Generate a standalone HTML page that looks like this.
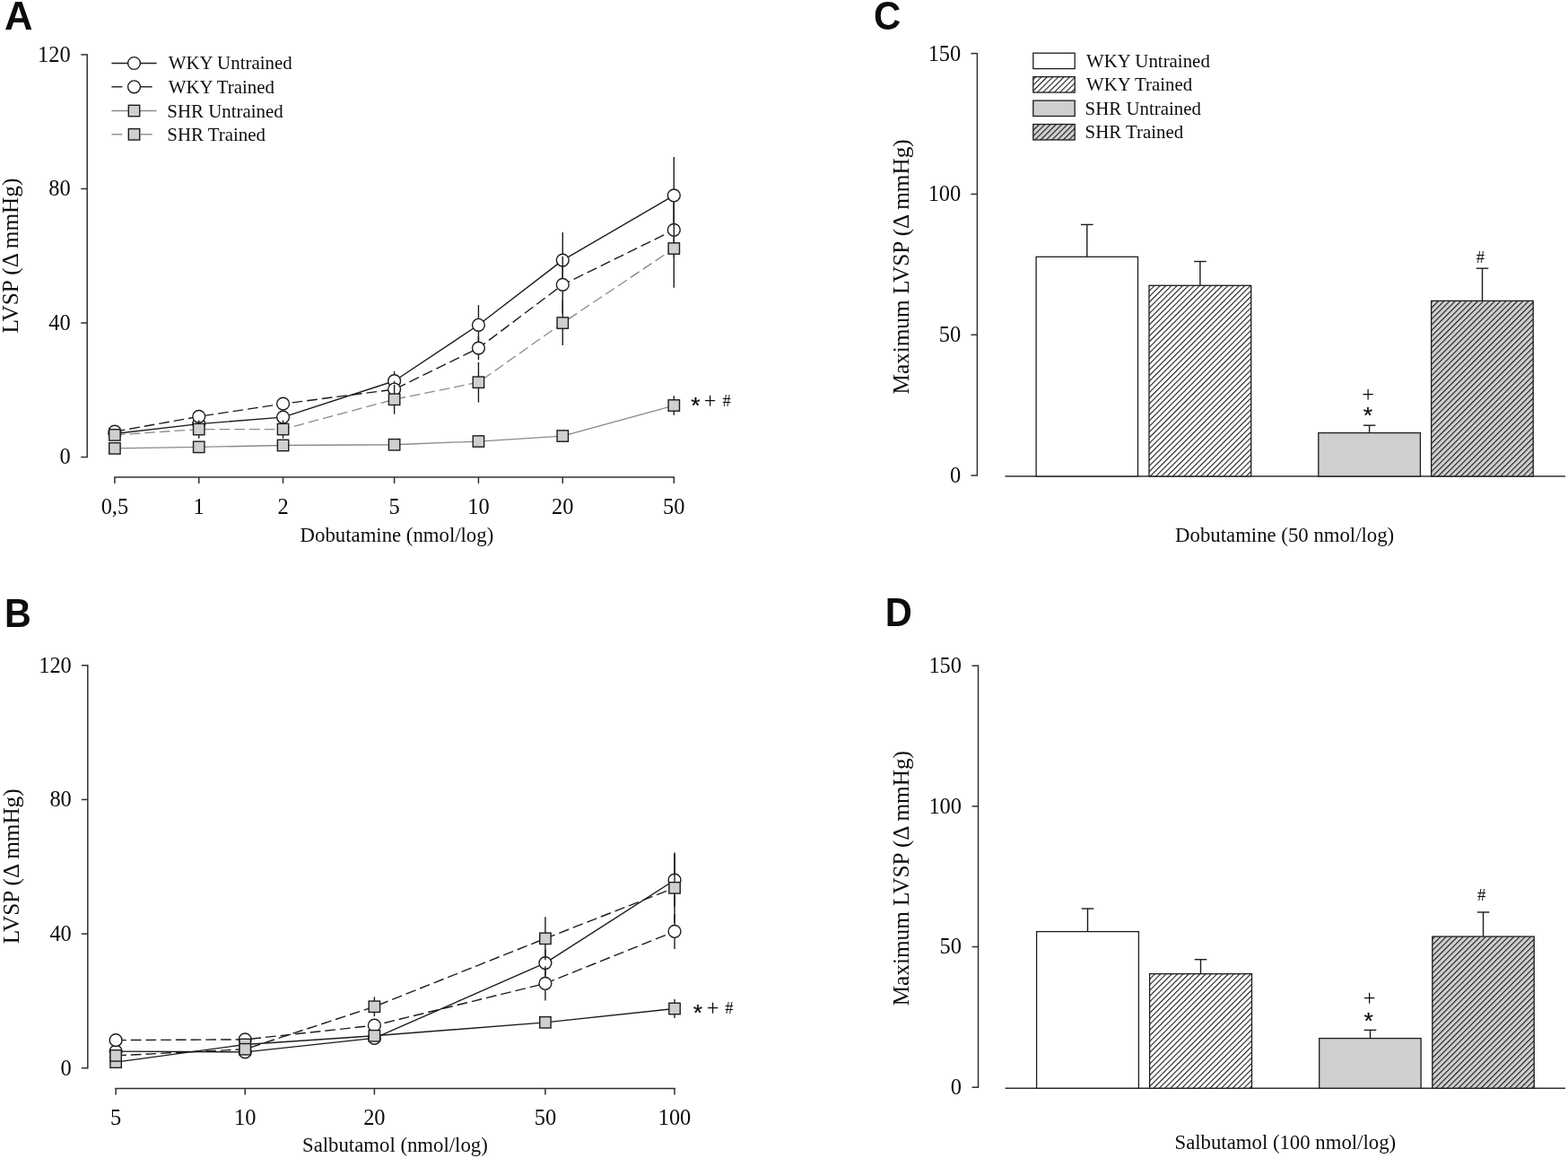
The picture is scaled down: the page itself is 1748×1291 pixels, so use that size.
<!DOCTYPE html>
<html><head><meta charset="utf-8"><title>Figure</title>
<style>html,body{margin:0;padding:0;background:#fff;}body{width:1748px;height:1291px;overflow:hidden;}svg{display:block;}</style>
</head><body>
<svg width="1748" height="1291" viewBox="0 0 1748 1291"><line x1="97.20" y1="60.22" x2="97.20" y2="510.30" stroke="#303030" stroke-width="1.5" stroke-linecap="butt"/>
<line x1="90.20" y1="509.60" x2="97.20" y2="509.60" stroke="#303030" stroke-width="1.5" stroke-linecap="butt"/>
<line x1="90.20" y1="360.04" x2="97.20" y2="360.04" stroke="#303030" stroke-width="1.5" stroke-linecap="butt"/>
<line x1="90.20" y1="210.48" x2="97.20" y2="210.48" stroke="#303030" stroke-width="1.5" stroke-linecap="butt"/>
<line x1="90.20" y1="60.92" x2="97.20" y2="60.92" stroke="#303030" stroke-width="1.5" stroke-linecap="butt"/>
<line x1="127.15" y1="532.00" x2="752.05" y2="532.00" stroke="#303030" stroke-width="1.5" stroke-linecap="butt"/>
<line x1="127.90" y1="532.00" x2="127.90" y2="539.00" stroke="#303030" stroke-width="1.5" stroke-linecap="butt"/>
<line x1="221.73" y1="532.00" x2="221.73" y2="539.00" stroke="#303030" stroke-width="1.5" stroke-linecap="butt"/>
<line x1="315.56" y1="532.00" x2="315.56" y2="539.00" stroke="#303030" stroke-width="1.5" stroke-linecap="butt"/>
<line x1="439.60" y1="532.00" x2="439.60" y2="539.00" stroke="#303030" stroke-width="1.5" stroke-linecap="butt"/>
<line x1="533.43" y1="532.00" x2="533.43" y2="539.00" stroke="#303030" stroke-width="1.5" stroke-linecap="butt"/>
<line x1="627.26" y1="532.00" x2="627.26" y2="539.00" stroke="#303030" stroke-width="1.5" stroke-linecap="butt"/>
<line x1="751.30" y1="532.00" x2="751.30" y2="539.00" stroke="#303030" stroke-width="1.5" stroke-linecap="butt"/>
<line x1="127.90" y1="481.56" x2="127.90" y2="485.30" stroke="#1c1c1c" stroke-width="1.4" stroke-linecap="butt"/>
<line x1="221.73" y1="466.98" x2="221.73" y2="478.19" stroke="#1c1c1c" stroke-width="1.4" stroke-linecap="butt"/>
<line x1="315.56" y1="459.50" x2="315.56" y2="470.71" stroke="#1c1c1c" stroke-width="1.4" stroke-linecap="butt"/>
<line x1="439.60" y1="413.88" x2="439.60" y2="435.57" stroke="#1c1c1c" stroke-width="1.4" stroke-linecap="butt"/>
<line x1="533.43" y1="340.22" x2="533.43" y2="384.34" stroke="#1c1c1c" stroke-width="1.4" stroke-linecap="butt"/>
<line x1="627.26" y1="259.09" x2="627.26" y2="321.15" stroke="#1c1c1c" stroke-width="1.4" stroke-linecap="butt"/>
<line x1="751.30" y1="174.96" x2="751.30" y2="260.96" stroke="#1c1c1c" stroke-width="1.4" stroke-linecap="butt"/>
<polyline points="127.90,483.43 221.73,472.58 315.56,465.11 439.60,424.72 533.43,362.28 627.26,290.12 751.30,217.96" fill="none" stroke="#1c1c1c" stroke-width="1.4" stroke-linejoin="round"/>
<circle cx="127.90" cy="483.43" r="6.9" fill="#fff" stroke="#1c1c1c" stroke-width="1.4"/>
<circle cx="221.73" cy="472.58" r="6.9" fill="#fff" stroke="#1c1c1c" stroke-width="1.4"/>
<circle cx="315.56" cy="465.11" r="6.9" fill="#fff" stroke="#1c1c1c" stroke-width="1.4"/>
<circle cx="439.60" cy="424.72" r="6.9" fill="#fff" stroke="#1c1c1c" stroke-width="1.4"/>
<circle cx="533.43" cy="362.28" r="6.9" fill="#fff" stroke="#1c1c1c" stroke-width="1.4"/>
<circle cx="627.26" cy="290.12" r="6.9" fill="#fff" stroke="#1c1c1c" stroke-width="1.4"/>
<circle cx="751.30" cy="217.96" r="6.9" fill="#fff" stroke="#1c1c1c" stroke-width="1.4"/>
<line x1="127.90" y1="479.31" x2="127.90" y2="483.05" stroke="#1c1c1c" stroke-width="1.4" stroke-linecap="butt"/>
<line x1="221.73" y1="458.75" x2="221.73" y2="469.97" stroke="#1c1c1c" stroke-width="1.4" stroke-linecap="butt"/>
<line x1="315.56" y1="444.54" x2="315.56" y2="455.76" stroke="#1c1c1c" stroke-width="1.4" stroke-linecap="butt"/>
<line x1="439.60" y1="424.72" x2="439.60" y2="443.42" stroke="#1c1c1c" stroke-width="1.4" stroke-linecap="butt"/>
<line x1="533.43" y1="375.00" x2="533.43" y2="401.17" stroke="#1c1c1c" stroke-width="1.4" stroke-linecap="butt"/>
<line x1="627.26" y1="285.63" x2="627.26" y2="349.20" stroke="#1c1c1c" stroke-width="1.4" stroke-linecap="butt"/>
<line x1="751.30" y1="226.56" x2="751.30" y2="286.38" stroke="#1c1c1c" stroke-width="1.4" stroke-linecap="butt"/>
<polyline points="127.90,481.18 221.73,464.36 315.56,450.15 439.60,434.07 533.43,388.08 627.26,317.42 751.30,256.47" fill="none" stroke="#1c1c1c" stroke-width="1.4" stroke-linejoin="round" stroke-dasharray="11.7 5"/>
<circle cx="127.90" cy="481.18" r="6.9" fill="#fff" stroke="#1c1c1c" stroke-width="1.4"/>
<circle cx="221.73" cy="464.36" r="6.9" fill="#fff" stroke="#1c1c1c" stroke-width="1.4"/>
<circle cx="315.56" cy="450.15" r="6.9" fill="#fff" stroke="#1c1c1c" stroke-width="1.4"/>
<circle cx="439.60" cy="434.07" r="6.9" fill="#fff" stroke="#1c1c1c" stroke-width="1.4"/>
<circle cx="533.43" cy="388.08" r="6.9" fill="#fff" stroke="#1c1c1c" stroke-width="1.4"/>
<circle cx="627.26" cy="317.42" r="6.9" fill="#fff" stroke="#1c1c1c" stroke-width="1.4"/>
<circle cx="751.30" cy="256.47" r="6.9" fill="#fff" stroke="#1c1c1c" stroke-width="1.4"/>
<line x1="127.90" y1="498.01" x2="127.90" y2="501.75" stroke="#1c1c1c" stroke-width="1.4" stroke-linecap="butt"/>
<line x1="221.73" y1="495.39" x2="221.73" y2="501.37" stroke="#1c1c1c" stroke-width="1.4" stroke-linecap="butt"/>
<line x1="315.56" y1="493.52" x2="315.56" y2="499.50" stroke="#1c1c1c" stroke-width="1.4" stroke-linecap="butt"/>
<line x1="439.60" y1="492.77" x2="439.60" y2="498.76" stroke="#1c1c1c" stroke-width="1.4" stroke-linecap="butt"/>
<line x1="533.43" y1="489.04" x2="533.43" y2="495.02" stroke="#1c1c1c" stroke-width="1.4" stroke-linecap="butt"/>
<line x1="627.26" y1="482.31" x2="627.26" y2="489.78" stroke="#1c1c1c" stroke-width="1.4" stroke-linecap="butt"/>
<line x1="751.30" y1="441.18" x2="751.30" y2="462.86" stroke="#1c1c1c" stroke-width="1.4" stroke-linecap="butt"/>
<polyline points="127.90,499.88 221.73,498.38 315.56,496.51 439.60,495.77 533.43,492.03 627.26,486.04 751.30,452.02" fill="none" stroke="#8a8a8a" stroke-width="1.3" stroke-linejoin="round"/>
<rect x="121.70" y="493.68" width="12.4" height="12.4" fill="#cfcfcf" stroke="#1c1c1c" stroke-width="1.4"/>
<rect x="215.53" y="492.18" width="12.4" height="12.4" fill="#cfcfcf" stroke="#1c1c1c" stroke-width="1.4"/>
<rect x="309.36" y="490.31" width="12.4" height="12.4" fill="#cfcfcf" stroke="#1c1c1c" stroke-width="1.4"/>
<rect x="433.40" y="489.57" width="12.4" height="12.4" fill="#cfcfcf" stroke="#1c1c1c" stroke-width="1.4"/>
<rect x="527.23" y="485.83" width="12.4" height="12.4" fill="#cfcfcf" stroke="#1c1c1c" stroke-width="1.4"/>
<rect x="621.06" y="479.84" width="12.4" height="12.4" fill="#cfcfcf" stroke="#1c1c1c" stroke-width="1.4"/>
<rect x="745.10" y="445.82" width="12.4" height="12.4" fill="#cfcfcf" stroke="#1c1c1c" stroke-width="1.4"/>
<line x1="127.90" y1="481.18" x2="127.90" y2="488.66" stroke="#1c1c1c" stroke-width="1.4" stroke-linecap="butt"/>
<line x1="221.73" y1="468.47" x2="221.73" y2="488.66" stroke="#1c1c1c" stroke-width="1.4" stroke-linecap="butt"/>
<line x1="315.56" y1="468.47" x2="315.56" y2="488.66" stroke="#1c1c1c" stroke-width="1.4" stroke-linecap="butt"/>
<line x1="439.60" y1="428.84" x2="439.60" y2="461.74" stroke="#1c1c1c" stroke-width="1.4" stroke-linecap="butt"/>
<line x1="533.43" y1="403.79" x2="533.43" y2="448.65" stroke="#1c1c1c" stroke-width="1.4" stroke-linecap="butt"/>
<line x1="627.26" y1="334.99" x2="627.26" y2="385.09" stroke="#1c1c1c" stroke-width="1.4" stroke-linecap="butt"/>
<line x1="751.30" y1="223.94" x2="751.30" y2="320.78" stroke="#1c1c1c" stroke-width="1.4" stroke-linecap="butt"/>
<polyline points="127.90,484.92 221.73,478.57 315.56,478.57 439.60,445.29 533.43,426.22 627.26,360.04 751.30,277.03" fill="none" stroke="#8a8a8a" stroke-width="1.3" stroke-linejoin="round" stroke-dasharray="11.7 5"/>
<rect x="121.70" y="478.72" width="12.4" height="12.4" fill="#cfcfcf" stroke="#1c1c1c" stroke-width="1.4"/>
<rect x="215.53" y="472.37" width="12.4" height="12.4" fill="#cfcfcf" stroke="#1c1c1c" stroke-width="1.4"/>
<rect x="309.36" y="472.37" width="12.4" height="12.4" fill="#cfcfcf" stroke="#1c1c1c" stroke-width="1.4"/>
<rect x="433.40" y="439.09" width="12.4" height="12.4" fill="#cfcfcf" stroke="#1c1c1c" stroke-width="1.4"/>
<rect x="527.23" y="420.02" width="12.4" height="12.4" fill="#cfcfcf" stroke="#1c1c1c" stroke-width="1.4"/>
<rect x="621.06" y="353.84" width="12.4" height="12.4" fill="#cfcfcf" stroke="#1c1c1c" stroke-width="1.4"/>
<rect x="745.10" y="270.83" width="12.4" height="12.4" fill="#cfcfcf" stroke="#1c1c1c" stroke-width="1.4"/>
<line x1="124.40" y1="70.50" x2="174.60" y2="70.50" stroke="#1c1c1c" stroke-width="1.4" stroke-linecap="butt"/>
<circle cx="149.50" cy="70.50" r="6.9" fill="#fff" stroke="#1c1c1c" stroke-width="1.4"/>
<line x1="124.40" y1="96.80" x2="136.40" y2="96.80" stroke="#1c1c1c" stroke-width="1.4" stroke-linecap="butt"/>
<line x1="156.80" y1="96.80" x2="169.60" y2="96.80" stroke="#1c1c1c" stroke-width="1.4" stroke-linecap="butt"/>
<circle cx="149.50" cy="96.80" r="6.9" fill="#fff" stroke="#1c1c1c" stroke-width="1.4"/>
<line x1="124.40" y1="123.50" x2="174.60" y2="123.50" stroke="#8a8a8a" stroke-width="1.4" stroke-linecap="butt"/>
<rect x="143.30" y="117.30" width="12.4" height="12.4" fill="#cfcfcf" stroke="#1c1c1c" stroke-width="1.4"/>
<line x1="124.40" y1="149.80" x2="136.40" y2="149.80" stroke="#8a8a8a" stroke-width="1.4" stroke-linecap="butt"/>
<line x1="156.80" y1="149.80" x2="169.60" y2="149.80" stroke="#8a8a8a" stroke-width="1.4" stroke-linecap="butt"/>
<rect x="143.30" y="143.60" width="12.4" height="12.4" fill="#cfcfcf" stroke="#1c1c1c" stroke-width="1.4"/>
<line x1="97.80" y1="741.10" x2="97.80" y2="1191.40" stroke="#303030" stroke-width="1.5" stroke-linecap="butt"/>
<line x1="90.80" y1="1190.70" x2="97.80" y2="1190.70" stroke="#303030" stroke-width="1.5" stroke-linecap="butt"/>
<line x1="90.80" y1="1041.07" x2="97.80" y2="1041.07" stroke="#303030" stroke-width="1.5" stroke-linecap="butt"/>
<line x1="90.80" y1="891.44" x2="97.80" y2="891.44" stroke="#303030" stroke-width="1.5" stroke-linecap="butt"/>
<line x1="90.80" y1="741.80" x2="97.80" y2="741.80" stroke="#303030" stroke-width="1.5" stroke-linecap="butt"/>
<line x1="128.35" y1="1213.40" x2="752.78" y2="1213.40" stroke="#303030" stroke-width="1.5" stroke-linecap="butt"/>
<line x1="129.10" y1="1213.40" x2="129.10" y2="1220.40" stroke="#303030" stroke-width="1.5" stroke-linecap="butt"/>
<line x1="273.23" y1="1213.40" x2="273.23" y2="1220.40" stroke="#303030" stroke-width="1.5" stroke-linecap="butt"/>
<line x1="417.37" y1="1213.40" x2="417.37" y2="1220.40" stroke="#303030" stroke-width="1.5" stroke-linecap="butt"/>
<line x1="607.90" y1="1213.40" x2="607.90" y2="1220.40" stroke="#303030" stroke-width="1.5" stroke-linecap="butt"/>
<line x1="752.03" y1="1213.40" x2="752.03" y2="1220.40" stroke="#303030" stroke-width="1.5" stroke-linecap="butt"/>
<line x1="129.10" y1="1170.24" x2="129.10" y2="1173.98" stroke="#1c1c1c" stroke-width="1.4" stroke-linecap="butt"/>
<line x1="273.23" y1="1171.02" x2="273.23" y2="1174.76" stroke="#1c1c1c" stroke-width="1.4" stroke-linecap="butt"/>
<line x1="417.37" y1="1153.67" x2="417.37" y2="1161.15" stroke="#1c1c1c" stroke-width="1.4" stroke-linecap="butt"/>
<line x1="607.90" y1="1058.65" x2="607.90" y2="1088.58" stroke="#1c1c1c" stroke-width="1.4" stroke-linecap="butt"/>
<line x1="752.03" y1="951.66" x2="752.03" y2="1010.77" stroke="#1c1c1c" stroke-width="1.4" stroke-linecap="butt"/>
<polyline points="129.10,1172.11 273.23,1172.89 417.37,1157.41 607.90,1073.61 752.03,981.22" fill="none" stroke="#1c1c1c" stroke-width="1.4" stroke-linejoin="round"/>
<circle cx="129.10" cy="1172.11" r="6.9" fill="#fff" stroke="#1c1c1c" stroke-width="1.4"/>
<circle cx="273.23" cy="1172.89" r="6.9" fill="#fff" stroke="#1c1c1c" stroke-width="1.4"/>
<circle cx="417.37" cy="1157.41" r="6.9" fill="#fff" stroke="#1c1c1c" stroke-width="1.4"/>
<circle cx="607.90" cy="1073.61" r="6.9" fill="#fff" stroke="#1c1c1c" stroke-width="1.4"/>
<circle cx="752.03" cy="981.22" r="6.9" fill="#fff" stroke="#1c1c1c" stroke-width="1.4"/>
<line x1="129.10" y1="1157.78" x2="129.10" y2="1161.52" stroke="#1c1c1c" stroke-width="1.4" stroke-linecap="butt"/>
<line x1="273.23" y1="1157.03" x2="273.23" y2="1160.77" stroke="#1c1c1c" stroke-width="1.4" stroke-linecap="butt"/>
<line x1="417.37" y1="1139.45" x2="417.37" y2="1146.93" stroke="#1c1c1c" stroke-width="1.4" stroke-linecap="butt"/>
<line x1="607.90" y1="1077.35" x2="607.90" y2="1115.51" stroke="#1c1c1c" stroke-width="1.4" stroke-linecap="butt"/>
<line x1="752.03" y1="1019.00" x2="752.03" y2="1057.90" stroke="#1c1c1c" stroke-width="1.4" stroke-linecap="butt"/>
<polyline points="129.10,1159.65 273.23,1158.90 417.37,1143.19 607.90,1096.43 752.03,1038.45" fill="none" stroke="#1c1c1c" stroke-width="1.4" stroke-linejoin="round" stroke-dasharray="11.7 5"/>
<circle cx="129.10" cy="1159.65" r="6.9" fill="#fff" stroke="#1c1c1c" stroke-width="1.4"/>
<circle cx="273.23" cy="1158.90" r="6.9" fill="#fff" stroke="#1c1c1c" stroke-width="1.4"/>
<circle cx="417.37" cy="1143.19" r="6.9" fill="#fff" stroke="#1c1c1c" stroke-width="1.4"/>
<circle cx="607.90" cy="1096.43" r="6.9" fill="#fff" stroke="#1c1c1c" stroke-width="1.4"/>
<circle cx="752.03" cy="1038.45" r="6.9" fill="#fff" stroke="#1c1c1c" stroke-width="1.4"/>
<line x1="129.10" y1="1182.28" x2="129.10" y2="1186.02" stroke="#1c1c1c" stroke-width="1.4" stroke-linecap="butt"/>
<line x1="273.23" y1="1162.64" x2="273.23" y2="1166.38" stroke="#1c1c1c" stroke-width="1.4" stroke-linecap="butt"/>
<line x1="417.37" y1="1152.92" x2="417.37" y2="1156.66" stroke="#1c1c1c" stroke-width="1.4" stroke-linecap="butt"/>
<line x1="607.90" y1="1136.83" x2="607.90" y2="1142.82" stroke="#1c1c1c" stroke-width="1.4" stroke-linecap="butt"/>
<line x1="752.03" y1="1114.01" x2="752.03" y2="1134.96" stroke="#1c1c1c" stroke-width="1.4" stroke-linecap="butt"/>
<polyline points="129.10,1184.15 273.23,1164.51 417.37,1154.79 607.90,1139.83 752.03,1124.49" fill="none" stroke="#1c1c1c" stroke-width="1.4" stroke-linejoin="round"/>
<rect x="122.90" y="1177.95" width="12.4" height="12.4" fill="#cfcfcf" stroke="#1c1c1c" stroke-width="1.4"/>
<rect x="267.03" y="1158.31" width="12.4" height="12.4" fill="#cfcfcf" stroke="#1c1c1c" stroke-width="1.4"/>
<rect x="411.17" y="1148.59" width="12.4" height="12.4" fill="#cfcfcf" stroke="#1c1c1c" stroke-width="1.4"/>
<rect x="601.70" y="1133.63" width="12.4" height="12.4" fill="#cfcfcf" stroke="#1c1c1c" stroke-width="1.4"/>
<rect x="745.83" y="1118.29" width="12.4" height="12.4" fill="#cfcfcf" stroke="#1c1c1c" stroke-width="1.4"/>
<line x1="129.10" y1="1174.99" x2="129.10" y2="1178.73" stroke="#1c1c1c" stroke-width="1.4" stroke-linecap="butt"/>
<line x1="273.23" y1="1167.88" x2="273.23" y2="1171.62" stroke="#1c1c1c" stroke-width="1.4" stroke-linecap="butt"/>
<line x1="417.37" y1="1111.40" x2="417.37" y2="1133.09" stroke="#1c1c1c" stroke-width="1.4" stroke-linecap="butt"/>
<line x1="607.90" y1="1022.36" x2="607.90" y2="1070.25" stroke="#1c1c1c" stroke-width="1.4" stroke-linecap="butt"/>
<line x1="752.03" y1="950.54" x2="752.03" y2="1029.10" stroke="#1c1c1c" stroke-width="1.4" stroke-linecap="butt"/>
<polyline points="129.10,1176.86 273.23,1169.75 417.37,1122.24 607.90,1046.31 752.03,989.82" fill="none" stroke="#1c1c1c" stroke-width="1.4" stroke-linejoin="round" stroke-dasharray="11.7 5"/>
<rect x="122.90" y="1170.66" width="12.4" height="12.4" fill="#cfcfcf" stroke="#1c1c1c" stroke-width="1.4"/>
<rect x="267.03" y="1163.55" width="12.4" height="12.4" fill="#cfcfcf" stroke="#1c1c1c" stroke-width="1.4"/>
<rect x="411.17" y="1116.04" width="12.4" height="12.4" fill="#cfcfcf" stroke="#1c1c1c" stroke-width="1.4"/>
<rect x="601.70" y="1040.11" width="12.4" height="12.4" fill="#cfcfcf" stroke="#1c1c1c" stroke-width="1.4"/>
<rect x="745.83" y="983.62" width="12.4" height="12.4" fill="#cfcfcf" stroke="#1c1c1c" stroke-width="1.4"/>
<defs><pattern id="hw" patternUnits="userSpaceOnUse" width="4.45" height="20" patternTransform="rotate(45)"><rect width="4.45" height="20" fill="#fff"/><rect width="1.05" height="20" fill="#111"/></pattern><pattern id="hg" patternUnits="userSpaceOnUse" width="4.45" height="20" patternTransform="rotate(45)"><rect width="4.45" height="20" fill="#cfcfcf"/><rect width="1.05" height="20" fill="#111"/></pattern></defs>
<line x1="1089.40" y1="58.90" x2="1089.40" y2="530.80" stroke="#303030" stroke-width="1.5" stroke-linecap="butt"/>
<line x1="1082.40" y1="530.10" x2="1089.40" y2="530.10" stroke="#303030" stroke-width="1.5" stroke-linecap="butt"/>
<line x1="1082.40" y1="373.27" x2="1089.40" y2="373.27" stroke="#303030" stroke-width="1.5" stroke-linecap="butt"/>
<line x1="1082.40" y1="216.43" x2="1089.40" y2="216.43" stroke="#303030" stroke-width="1.5" stroke-linecap="butt"/>
<line x1="1082.40" y1="59.60" x2="1089.40" y2="59.60" stroke="#303030" stroke-width="1.5" stroke-linecap="butt"/>
<line x1="1120.50" y1="531.00" x2="1745.00" y2="531.00" stroke="#303030" stroke-width="1.5" stroke-linecap="butt"/>
<line x1="1211.80" y1="250.40" x2="1211.80" y2="286.30" stroke="#1c1c1c" stroke-width="1.4" stroke-linecap="butt"/>
<line x1="1205.00" y1="250.40" x2="1218.60" y2="250.40" stroke="#1c1c1c" stroke-width="1.4" stroke-linecap="butt"/>
<rect x="1155.10" y="286.30" width="113.40" height="244.70" fill="#fff" stroke="#1c1c1c" stroke-width="1.3"/>
<line x1="1337.90" y1="291.50" x2="1337.90" y2="318.30" stroke="#1c1c1c" stroke-width="1.4" stroke-linecap="butt"/>
<line x1="1331.10" y1="291.50" x2="1344.70" y2="291.50" stroke="#1c1c1c" stroke-width="1.4" stroke-linecap="butt"/>
<rect x="1281.00" y="318.30" width="113.70" height="212.70" fill="url(#hw)" stroke="#1c1c1c" stroke-width="1.3"/>
<line x1="1526.60" y1="474.20" x2="1526.60" y2="482.60" stroke="#1c1c1c" stroke-width="1.4" stroke-linecap="butt"/>
<line x1="1519.80" y1="474.20" x2="1533.40" y2="474.20" stroke="#1c1c1c" stroke-width="1.4" stroke-linecap="butt"/>
<rect x="1469.80" y="482.60" width="113.60" height="48.40" fill="#cfcfcf" stroke="#1c1c1c" stroke-width="1.3"/>
<line x1="1652.50" y1="299.20" x2="1652.50" y2="335.40" stroke="#1c1c1c" stroke-width="1.4" stroke-linecap="butt"/>
<line x1="1645.70" y1="299.20" x2="1659.30" y2="299.20" stroke="#1c1c1c" stroke-width="1.4" stroke-linecap="butt"/>
<rect x="1595.60" y="335.40" width="113.60" height="195.60" fill="url(#hg)" stroke="#1c1c1c" stroke-width="1.3"/>
<rect x="1151.8" y="59.20" width="46.4" height="17.4" fill="#fff" stroke="#1c1c1c" stroke-width="1.3"/>
<rect x="1151.8" y="85.65" width="46.4" height="17.4" fill="url(#hw)" stroke="#1c1c1c" stroke-width="1.3"/>
<rect x="1151.8" y="112.10" width="46.4" height="17.4" fill="#cfcfcf" stroke="#1c1c1c" stroke-width="1.3"/>
<rect x="1151.8" y="138.55" width="46.4" height="17.4" fill="url(#hg)" stroke="#1c1c1c" stroke-width="1.3"/>
<line x1="1090.50" y1="741.50" x2="1090.50" y2="1212.90" stroke="#303030" stroke-width="1.5" stroke-linecap="butt"/>
<line x1="1083.50" y1="1212.20" x2="1090.50" y2="1212.20" stroke="#303030" stroke-width="1.5" stroke-linecap="butt"/>
<line x1="1083.50" y1="1055.53" x2="1090.50" y2="1055.53" stroke="#303030" stroke-width="1.5" stroke-linecap="butt"/>
<line x1="1083.50" y1="898.87" x2="1090.50" y2="898.87" stroke="#303030" stroke-width="1.5" stroke-linecap="butt"/>
<line x1="1083.50" y1="742.20" x2="1090.50" y2="742.20" stroke="#303030" stroke-width="1.5" stroke-linecap="butt"/>
<line x1="1120.50" y1="1213.20" x2="1745.00" y2="1213.20" stroke="#303030" stroke-width="1.5" stroke-linecap="butt"/>
<line x1="1212.50" y1="1013.00" x2="1212.50" y2="1038.60" stroke="#1c1c1c" stroke-width="1.4" stroke-linecap="butt"/>
<line x1="1205.70" y1="1013.00" x2="1219.30" y2="1013.00" stroke="#1c1c1c" stroke-width="1.4" stroke-linecap="butt"/>
<rect x="1155.60" y="1038.60" width="113.80" height="174.60" fill="#fff" stroke="#1c1c1c" stroke-width="1.3"/>
<line x1="1338.50" y1="1069.70" x2="1338.50" y2="1085.70" stroke="#1c1c1c" stroke-width="1.4" stroke-linecap="butt"/>
<line x1="1331.70" y1="1069.70" x2="1345.30" y2="1069.70" stroke="#1c1c1c" stroke-width="1.4" stroke-linecap="butt"/>
<rect x="1281.60" y="1085.70" width="113.90" height="127.50" fill="url(#hw)" stroke="#1c1c1c" stroke-width="1.3"/>
<line x1="1527.50" y1="1148.40" x2="1527.50" y2="1157.60" stroke="#1c1c1c" stroke-width="1.4" stroke-linecap="butt"/>
<line x1="1520.70" y1="1148.40" x2="1534.30" y2="1148.40" stroke="#1c1c1c" stroke-width="1.4" stroke-linecap="butt"/>
<rect x="1470.70" y="1157.60" width="113.40" height="55.60" fill="#cfcfcf" stroke="#1c1c1c" stroke-width="1.3"/>
<line x1="1653.50" y1="1017.00" x2="1653.50" y2="1044.10" stroke="#1c1c1c" stroke-width="1.4" stroke-linecap="butt"/>
<line x1="1646.70" y1="1017.00" x2="1660.30" y2="1017.00" stroke="#1c1c1c" stroke-width="1.4" stroke-linecap="butt"/>
<rect x="1596.80" y="1044.10" width="113.40" height="169.10" fill="url(#hg)" stroke="#1c1c1c" stroke-width="1.3"/>
<text x="0" y="0" transform="translate(4.89,33.24) scale(0.98,1)" font-family="'Liberation Sans',Arial,sans-serif" font-size="44.5" font-weight="bold" fill="#0d0d0d">A</text>
<text x="0" y="0" transform="translate(66.41,517.48) scale(0.977,1)" font-family="'Liberation Serif','Times New Roman',serif" font-size="25.0" font-weight="normal" fill="#0d0d0d">0</text>
<text x="0" y="0" transform="translate(54.20,367.92) scale(0.977,1)" font-family="'Liberation Serif','Times New Roman',serif" font-size="25.0" font-weight="normal" fill="#0d0d0d">40</text>
<text x="0" y="0" transform="translate(54.20,218.36) scale(0.977,1)" font-family="'Liberation Serif','Times New Roman',serif" font-size="25.0" font-weight="normal" fill="#0d0d0d">80</text>
<text x="0" y="0" transform="translate(41.99,68.92) scale(0.977,1)" font-family="'Liberation Serif','Times New Roman',serif" font-size="25.0" font-weight="normal" fill="#0d0d0d">120</text>
<text x="0" y="0" transform="translate(20.00,371.49) rotate(-90) scale(0.975,1)" font-family="'Liberation Serif','Times New Roman',serif" font-size="25.9" font-weight="normal" fill="#0d0d0d">LVSP (&#916; mmHg)</text>
<text x="0" y="0" transform="translate(112.63,572.75) scale(0.977,1)" font-family="'Liberation Serif','Times New Roman',serif" font-size="25.0" font-weight="normal" fill="#0d0d0d">0,5</text>
<text x="0" y="0" transform="translate(215.62,573.00) scale(0.977,1)" font-family="'Liberation Serif','Times New Roman',serif" font-size="25.0" font-weight="normal" fill="#0d0d0d">1</text>
<text x="0" y="0" transform="translate(309.46,572.75) scale(0.977,1)" font-family="'Liberation Serif','Times New Roman',serif" font-size="25.0" font-weight="normal" fill="#0d0d0d">2</text>
<text x="0" y="0" transform="translate(433.49,572.75) scale(0.977,1)" font-family="'Liberation Serif','Times New Roman',serif" font-size="25.0" font-weight="normal" fill="#0d0d0d">5</text>
<text x="0" y="0" transform="translate(521.22,573.00) scale(0.977,1)" font-family="'Liberation Serif','Times New Roman',serif" font-size="25.0" font-weight="normal" fill="#0d0d0d">10</text>
<text x="0" y="0" transform="translate(615.05,572.75) scale(0.977,1)" font-family="'Liberation Serif','Times New Roman',serif" font-size="25.0" font-weight="normal" fill="#0d0d0d">20</text>
<text x="0" y="0" transform="translate(739.09,572.75) scale(0.977,1)" font-family="'Liberation Serif','Times New Roman',serif" font-size="25.0" font-weight="normal" fill="#0d0d0d">50</text>
<text x="0" y="0" transform="translate(334.62,603.70) scale(0.957,1)" font-family="'Liberation Serif','Times New Roman',serif" font-size="23.8" font-weight="normal" fill="#0d0d0d">Dobutamine (nmol/log)</text>
<text x="0" y="0" transform="translate(770.27,461.29)" font-family="'Liberation Sans',Arial,sans-serif" font-size="26.5" font-weight="normal" fill="#0d0d0d" stroke="#0d0d0d" stroke-width="0.25">*</text>
<text x="0" y="0" transform="translate(784.78,454.81)" font-family="'Liberation Serif','Times New Roman',serif" font-size="24.3" font-weight="normal" fill="#0d0d0d">+</text>
<text x="0" y="0" transform="translate(805.53,452.82)" font-family="'Liberation Serif','Times New Roman',serif" font-size="18.5" font-weight="normal" fill="#0d0d0d">#</text>
<text x="0" y="0" transform="translate(187.80,77.40) scale(0.972,1)" font-family="'Liberation Serif','Times New Roman',serif" font-size="21.5" font-weight="normal" fill="#0d0d0d">WKY Untrained</text>
<text x="0" y="0" transform="translate(187.80,104.00) scale(0.972,1)" font-family="'Liberation Serif','Times New Roman',serif" font-size="21.5" font-weight="normal" fill="#0d0d0d">WKY Trained</text>
<text x="0" y="0" transform="translate(186.34,130.50) scale(0.972,1)" font-family="'Liberation Serif','Times New Roman',serif" font-size="21.5" font-weight="normal" fill="#0d0d0d">SHR Untrained</text>
<text x="0" y="0" transform="translate(186.34,156.60) scale(0.972,1)" font-family="'Liberation Serif','Times New Roman',serif" font-size="21.5" font-weight="normal" fill="#0d0d0d">SHR Trained</text>
<text x="0" y="0" transform="translate(4.97,698.50) scale(0.926,1)" font-family="'Liberation Sans',Arial,sans-serif" font-size="44.5" font-weight="bold" fill="#0d0d0d">B</text>
<text x="0" y="0" transform="translate(67.61,1198.58) scale(0.977,1)" font-family="'Liberation Serif','Times New Roman',serif" font-size="25.0" font-weight="normal" fill="#0d0d0d">0</text>
<text x="0" y="0" transform="translate(55.40,1048.94) scale(0.977,1)" font-family="'Liberation Serif','Times New Roman',serif" font-size="25.0" font-weight="normal" fill="#0d0d0d">40</text>
<text x="0" y="0" transform="translate(55.40,899.31) scale(0.977,1)" font-family="'Liberation Serif','Times New Roman',serif" font-size="25.0" font-weight="normal" fill="#0d0d0d">80</text>
<text x="0" y="0" transform="translate(43.19,749.80) scale(0.977,1)" font-family="'Liberation Serif','Times New Roman',serif" font-size="25.0" font-weight="normal" fill="#0d0d0d">120</text>
<text x="0" y="0" transform="translate(20.60,1052.19) rotate(-90) scale(0.975,1)" font-family="'Liberation Serif','Times New Roman',serif" font-size="25.9" font-weight="normal" fill="#0d0d0d">LVSP (&#916; mmHg)</text>
<text x="0" y="0" transform="translate(122.99,1253.95) scale(0.977,1)" font-family="'Liberation Serif','Times New Roman',serif" font-size="25.0" font-weight="normal" fill="#0d0d0d">5</text>
<text x="0" y="0" transform="translate(261.02,1254.20) scale(0.977,1)" font-family="'Liberation Serif','Times New Roman',serif" font-size="25.0" font-weight="normal" fill="#0d0d0d">10</text>
<text x="0" y="0" transform="translate(405.15,1253.95) scale(0.977,1)" font-family="'Liberation Serif','Times New Roman',serif" font-size="25.0" font-weight="normal" fill="#0d0d0d">20</text>
<text x="0" y="0" transform="translate(595.69,1253.95) scale(0.977,1)" font-family="'Liberation Serif','Times New Roman',serif" font-size="25.0" font-weight="normal" fill="#0d0d0d">50</text>
<text x="0" y="0" transform="translate(733.71,1254.20) scale(0.977,1)" font-family="'Liberation Serif','Times New Roman',serif" font-size="25.0" font-weight="normal" fill="#0d0d0d">100</text>
<text x="0" y="0" transform="translate(337.01,1283.70) scale(0.957,1)" font-family="'Liberation Serif','Times New Roman',serif" font-size="23.8" font-weight="normal" fill="#0d0d0d">Salbutamol (nmol/log)</text>
<text x="0" y="0" transform="translate(772.87,1138.49)" font-family="'Liberation Sans',Arial,sans-serif" font-size="26.5" font-weight="normal" fill="#0d0d0d" stroke="#0d0d0d" stroke-width="0.25">*</text>
<text x="0" y="0" transform="translate(787.78,1132.01)" font-family="'Liberation Serif','Times New Roman',serif" font-size="24.3" font-weight="normal" fill="#0d0d0d">+</text>
<text x="0" y="0" transform="translate(808.13,1129.83)" font-family="'Liberation Serif','Times New Roman',serif" font-size="18.5" font-weight="normal" fill="#0d0d0d">#</text>
<text x="0" y="0" transform="translate(973.93,33.05) scale(0.94,1)" font-family="'Liberation Sans',Arial,sans-serif" font-size="44.5" font-weight="bold" fill="#0d0d0d">C</text>
<text x="0" y="0" transform="translate(1059.06,537.98) scale(0.977,1)" font-family="'Liberation Serif','Times New Roman',serif" font-size="25.0" font-weight="normal" fill="#0d0d0d">0</text>
<text x="0" y="0" transform="translate(1046.85,381.14) scale(0.977,1)" font-family="'Liberation Serif','Times New Roman',serif" font-size="25.0" font-weight="normal" fill="#0d0d0d">50</text>
<text x="0" y="0" transform="translate(1034.64,224.43) scale(0.977,1)" font-family="'Liberation Serif','Times New Roman',serif" font-size="25.0" font-weight="normal" fill="#0d0d0d">100</text>
<text x="0" y="0" transform="translate(1034.64,67.60) scale(0.977,1)" font-family="'Liberation Serif','Times New Roman',serif" font-size="25.0" font-weight="normal" fill="#0d0d0d">150</text>
<text x="0" y="0" transform="translate(1012.80,439.55) rotate(-90) scale(0.975,1)" font-family="'Liberation Serif','Times New Roman',serif" font-size="25.9" font-weight="normal" fill="#0d0d0d">Maximum LVSP (&#916; mmHg)</text>
<text x="0" y="0" transform="translate(1519.77,472.39)" font-family="'Liberation Sans',Arial,sans-serif" font-size="26.5" font-weight="normal" fill="#0d0d0d" stroke="#0d0d0d" stroke-width="0.25">*</text>
<text x="0" y="0" transform="translate(1518.29,448.01)" font-family="'Liberation Serif','Times New Roman',serif" font-size="24.3" font-weight="normal" fill="#0d0d0d">+</text>
<text x="0" y="0" transform="translate(1645.73,293.22)" font-family="'Liberation Serif','Times New Roman',serif" font-size="18.5" font-weight="normal" fill="#0d0d0d">#</text>
<text x="0" y="0" transform="translate(1310.12,603.60) scale(0.957,1)" font-family="'Liberation Serif','Times New Roman',serif" font-size="23.8" font-weight="normal" fill="#0d0d0d">Dobutamine (50 nmol/log)</text>
<text x="0" y="0" transform="translate(1211.00,74.70) scale(0.972,1)" font-family="'Liberation Serif','Times New Roman',serif" font-size="21.5" font-weight="normal" fill="#0d0d0d">WKY Untrained</text>
<text x="0" y="0" transform="translate(1211.00,101.23) scale(0.972,1)" font-family="'Liberation Serif','Times New Roman',serif" font-size="21.5" font-weight="normal" fill="#0d0d0d">WKY Trained</text>
<text x="0" y="0" transform="translate(1209.54,127.76) scale(0.972,1)" font-family="'Liberation Serif','Times New Roman',serif" font-size="21.5" font-weight="normal" fill="#0d0d0d">SHR Untrained</text>
<text x="0" y="0" transform="translate(1209.54,154.29) scale(0.972,1)" font-family="'Liberation Serif','Times New Roman',serif" font-size="21.5" font-weight="normal" fill="#0d0d0d">SHR Trained</text>
<text x="0" y="0" transform="translate(986.68,698.00) scale(0.937,1)" font-family="'Liberation Sans',Arial,sans-serif" font-size="44.5" font-weight="bold" fill="#0d0d0d">D</text>
<text x="0" y="0" transform="translate(1059.81,1220.08) scale(0.977,1)" font-family="'Liberation Serif','Times New Roman',serif" font-size="25.0" font-weight="normal" fill="#0d0d0d">0</text>
<text x="0" y="0" transform="translate(1047.60,1063.41) scale(0.977,1)" font-family="'Liberation Serif','Times New Roman',serif" font-size="25.0" font-weight="normal" fill="#0d0d0d">50</text>
<text x="0" y="0" transform="translate(1035.39,906.87) scale(0.977,1)" font-family="'Liberation Serif','Times New Roman',serif" font-size="25.0" font-weight="normal" fill="#0d0d0d">100</text>
<text x="0" y="0" transform="translate(1035.39,750.20) scale(0.977,1)" font-family="'Liberation Serif','Times New Roman',serif" font-size="25.0" font-weight="normal" fill="#0d0d0d">150</text>
<text x="0" y="0" transform="translate(1013.20,1121.35) rotate(-90) scale(0.975,1)" font-family="'Liberation Serif','Times New Roman',serif" font-size="25.9" font-weight="normal" fill="#0d0d0d">Maximum LVSP (&#916; mmHg)</text>
<text x="0" y="0" transform="translate(1520.57,1146.88)" font-family="'Liberation Sans',Arial,sans-serif" font-size="26.5" font-weight="normal" fill="#0d0d0d" stroke="#0d0d0d" stroke-width="0.25">*</text>
<text x="0" y="0" transform="translate(1519.69,1121.31)" font-family="'Liberation Serif','Times New Roman',serif" font-size="24.3" font-weight="normal" fill="#0d0d0d">+</text>
<text x="0" y="0" transform="translate(1646.93,1004.42)" font-family="'Liberation Serif','Times New Roman',serif" font-size="18.5" font-weight="normal" fill="#0d0d0d">#</text>
<text x="0" y="0" transform="translate(1309.51,1280.50) scale(0.957,1)" font-family="'Liberation Serif','Times New Roman',serif" font-size="23.8" font-weight="normal" fill="#0d0d0d">Salbutamol (100 nmol/log)</text></svg>
</body></html>
